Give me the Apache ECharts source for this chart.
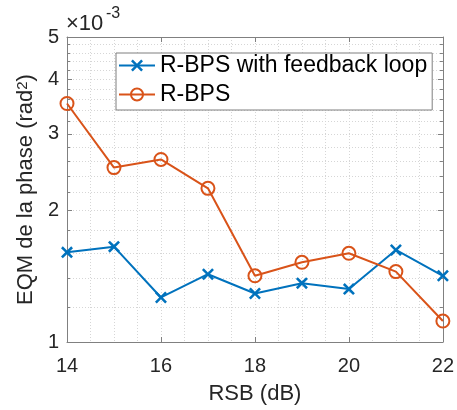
<!DOCTYPE html>
<html><head><meta charset="utf-8">
<script src="https://cdn.jsdelivr.net/npm/echarts@6/dist/echarts.min.js"></script>
<style>html,body{margin:0;padding:0;background:#fff}#c{width:457px;height:410px}</style>
</head><body><div id="c"></div>
<script>
// x values: RSB (dB)
const snrDb = [14, 15, 16, 17, 18, 19, 20, 21, 22];
// y values in units of 1e-3 rad^2
const rbpsFeedback = [1.605, 1.654, 1.265, 1.430, 1.292, 1.364, 1.322, 1.625, 1.418];
const rbps = [3.52, 2.51, 2.62, 2.25, 1.418, 1.523, 1.597, 1.450, 1.117];
const seriesNames = ['R-BPS with feedback loop', 'R-BPS'];
const yMajorTicks = [1, 2, 3, 4, 5];
const yMinorTicks = [1.2, 1.4, 1.6, 1.8, 2.2, 2.4, 2.6, 2.8, 3.2, 3.4, 3.6, 3.8, 4.2, 4.4, 4.6, 4.8];

const FONT = "'Liberation Sans', Arial, Helvetica, sans-serif";
const AXIS_COLOR = '#808080';
const TEXT_COLOR = '#262626';
const GRID_COLOR = '#d6d6d6';
const BLUE = '#0072BD';
const ORANGE = '#D95319';
const X_SYMBOL = 'path://M0,1.5L1.5,0L5,3.5L8.5,0L10,1.5L6.5,5L10,8.5L8.5,10L5,6.5L1.5,10L0,8.5L3.5,5Z';

const chart = echarts.init(document.getElementById('c'), null, {renderer: 'canvas'});

const logAxisBase = {
  type: 'log', logBase: 10, min: 1, max: 5, gridIndex: 0
};
const gridLine = {show: true, lineStyle: {color: GRID_COLOR, width: 1, type: [1, 2]}};

const option = {
  animation: false,
  backgroundColor: '#fff',
  textStyle: {fontFamily: FONT},
  grid: {left: 67, right: 14, top: 37, bottom: 67, containLabel: false},
  graphic: [{
    type: 'text', left: 66, top: 13,
    style: {text: '×10', fontFamily: FONT, fontSize: 22, fill: TEXT_COLOR}
  }, {
    type: 'text', left: 106, top: 6,
    style: {text: '-3', fontFamily: FONT, fontSize: 16, fill: TEXT_COLOR}
  }],
  legend: {
    data: seriesNames, orient: 'vertical', left: 116, top: 53,
    backgroundColor: '#fff', borderColor: '#7f7f7f', borderWidth: 1,
    padding: [1, 5, 4, 2], itemGap: 6, itemWidth: 36, itemHeight: 15,
    textStyle: {fontFamily: FONT, fontSize: 23, color: '#000'}
  },
  xAxis: [{
    type: 'value', min: 14, max: 22, interval: 2, position: 'bottom',
    name: 'RSB (dB)', nameLocation: 'middle', nameGap: 41,
    nameTextStyle: {fontFamily: FONT, fontSize: 22, color: TEXT_COLOR},
    axisLine: {show: true, lineStyle: {color: AXIS_COLOR, width: 1}},
    axisTick: {show: true, inside: true, length: 5, lineStyle: {color: AXIS_COLOR}},
    axisLabel: {fontFamily: FONT, fontSize: 20, color: TEXT_COLOR, margin: 14},
    splitLine: gridLine,
    minorTick: {show: false, splitNumber: 4},
    minorSplitLine: gridLine
  }, {
    type: 'value', min: 14, max: 22, interval: 2, position: 'top',
    axisLine: {show: true, lineStyle: {color: AXIS_COLOR, width: 1}},
    axisTick: {show: true, inside: true, length: 5, lineStyle: {color: AXIS_COLOR}},
    axisLabel: {show: false},
    splitLine: {show: false}
  }],
  yAxis: [Object.assign({}, logAxisBase, {
    position: 'left',
    name: 'EQM de la phase (rad{sup|2})', nameLocation: 'middle', nameGap: 25, nameRotate: 90,
    nameTextStyle: {fontFamily: FONT, fontSize: 22, color: TEXT_COLOR,
      rich: {sup: {fontFamily: FONT, fontSize: 15, color: TEXT_COLOR, verticalAlign: 'top'}}},
    axisLine: {show: true, lineStyle: {color: AXIS_COLOR, width: 1}},
    axisTick: {show: true, inside: true, length: 5, customValues: yMajorTicks, lineStyle: {color: AXIS_COLOR}},
    axisLabel: {fontFamily: FONT, fontSize: 20, color: TEXT_COLOR, margin: 8, customValues: yMajorTicks},
    splitLine: gridLine
  }), Object.assign({}, logAxisBase, {
    position: 'left',
    axisLine: {show: false},
    axisTick: {show: true, inside: true, length: 3, customValues: yMinorTicks, lineStyle: {color: AXIS_COLOR}},
    axisLabel: {show: false, customValues: yMinorTicks},
    splitLine: gridLine
  }), Object.assign({}, logAxisBase, {
    position: 'right',
    axisLine: {show: true, lineStyle: {color: AXIS_COLOR, width: 1}},
    axisTick: {show: true, inside: true, length: 5, customValues: yMajorTicks, lineStyle: {color: AXIS_COLOR}},
    axisLabel: {show: false, customValues: yMajorTicks},
    splitLine: {show: false}
  }), Object.assign({}, logAxisBase, {
    position: 'right',
    axisLine: {show: false},
    axisTick: {show: true, inside: true, length: 3, customValues: yMinorTicks, lineStyle: {color: AXIS_COLOR}},
    axisLabel: {show: false, customValues: yMinorTicks},
    splitLine: {show: false}
  })],
  series: [{
    name: seriesNames[0], type: 'line', xAxisIndex: 0, yAxisIndex: 0,
    data: snrDb.map((x, i) => [x, rbpsFeedback[i]]),
    symbol: X_SYMBOL, symbolSize: 12, showSymbol: true,
    lineStyle: {color: BLUE, width: 2},
    itemStyle: {color: BLUE, borderWidth: 0},
    z: 3
  }, {
    name: seriesNames[1], type: 'line', xAxisIndex: 0, yAxisIndex: 0,
    data: snrDb.map((x, i) => [x, rbps[i]]),
    symbol: 'circle', symbolSize: 13, showSymbol: true,
    lineStyle: {color: ORANGE, width: 2},
    itemStyle: {color: 'rgba(255,255,255,0)', borderColor: ORANGE, borderWidth: 2},
    z: 3
  }]
};
chart.setOption(option);
</script>
</body></html>
